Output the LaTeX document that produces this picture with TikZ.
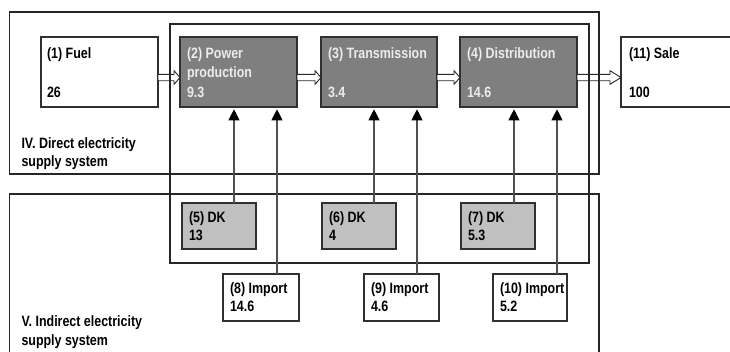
\documentclass[tikz,border=0pt]{standalone}
\usepackage{fontspec}
\setmainfont{Liberation Sans}[FakeStretch=0.83]
\usetikzlibrary{arrows.meta,calc}

\definecolor{boxdark}{HTML}{7F7F7F}
\definecolor{boxlight}{HTML}{C0C0C0}
\definecolor{edge}{HTML}{303030}
\definecolor{feedline}{HTML}{505050}
\definecolor{lighttext}{HTML}{ECECEC}

% left-aligned stack of lines whose baseline is the first line
\newcommand{\rows}[1]{\begin{tabular}[t]{@{}l@{}}#1\end{tabular}}

\tikzset{
  box/.style={draw=edge, line width=1.3pt, inner sep=0pt, outer sep=0pt, anchor=north west},
  stagebox/.style={box, fill=boxdark, minimum height=70},
  dkbox/.style={box, fill=boxlight, minimum width=74, minimum height=46},
  importbox/.style={box, fill=white, minimum height=47},
  plainbox/.style={box, fill=white, minimum height=70},
  frame/.style={draw=black!85, line width=1.1pt, inner sep=0pt, outer sep=0pt, anchor=north west},
  txt/.style={anchor=base west, inner sep=0pt, outer sep=0pt,
    font=\bfseries\fontsize{15}{19.5}\selectfont},
  smalltxt/.style={txt, font=\bfseries\fontsize{15}{18}\selectfont},
  lighttxt/.style={txt, text=lighttext},
  feed/.style={draw=feedline, line width=1.1pt, shorten >=2.3pt,
    -{Triangle[length=11pt,width=11pt,color=black]}},
  hollow/.style={fill=white, draw=black!85, line width=0.9pt, line join=miter,
    to path={let \p1=(\tikztostart), \p2=(\tikztotarget) in
      (\x1,\y1+3.2pt) -- (\x2-#1,\y1+3.2pt) -- (\x2-#1,\y1+6.8pt) -- (\x2,\y1)
      -- (\x2-#1,\y1-6.8pt) -- (\x2-#1,\y1-3.2pt) -- (\x1,\y1-3.2pt) -- cycle}},
}

\begin{document}
\begin{tikzpicture}[x=1pt,y=-1pt]
\useasboundingbox (0,0) rectangle (730,351);

% main chain
\node[plainbox, minimum width=117] (fuel)  at (41,37)  {};
\node[stagebox, minimum width=117] (pow)   at (180,37) {};
\node[stagebox, minimum width=116] (trans) at (321,37) {};
\node[stagebox, minimum width=117] (dist)  at (460,37) {};
\node[plainbox, minimum width=114] (sale)  at (621,37) {};

\node[txt]      (fuel-t)  at ([shift={(6,21)}]fuel.north west)  {\rows{(1) Fuel\\ \\26}};
\node[lighttxt] (pow-t)   at ([shift={(7,21)}]pow.north west)   {\rows{(2) Power\\production\\9.3}};
\node[lighttxt] (trans-t) at ([shift={(7,21)}]trans.north west) {\rows{(3) Transmission\\ \\3.4}};
\node[lighttxt] (dist-t)  at ([shift={(7,21)}]dist.north west)  {\rows{(4) Distribution\\ \\14.6}};
\node[txt]      (sale-t)  at ([shift={(8,21)}]sale.north west)  {\rows{(11) Sale\\ \\100}};

% domestic production inputs
\node[dkbox] (dk5) at (182,203) {};
\node[dkbox] (dk6) at (322,203) {};
\node[dkbox] (dk7) at (461,203) {};
\node[smalltxt] (dk5-t) at ([shift={(7,19.7)}]dk5.north west) {\rows{(5) DK\\13}};
\node[smalltxt] (dk6-t) at ([shift={(7,19.7)}]dk6.north west) {\rows{(6) DK\\4}};
\node[smalltxt] (dk7-t) at ([shift={(7,19.7)}]dk7.north west) {\rows{(7) DK\\5.3}};

% imports
\node[importbox, minimum width=76] (imp8)  at (223,274) {};
\node[importbox, minimum width=75] (imp9)  at (364,274) {};
\node[importbox, minimum width=74] (imp10) at (493,274) {};
\node[smalltxt] (imp8-t)  at ([shift={(7,19.7)}]imp8.north west)  {\rows{(8) Import\\14.6}};
\node[smalltxt] (imp9-t)  at ([shift={(7,19.7)}]imp9.north west)  {\rows{(9) Import\\4.6}};
\node[smalltxt] (imp10-t) at ([shift={(7,19.7)}]imp10.north west) {\rows{(10) Import\\5.2}};

% flows along the chain
\draw[hollow=6pt]  ([shift={(0,5.5)}]fuel.east)  to (pow.west);
\draw[hollow=6pt]  ([shift={(0,5.5)}]pow.east)   to (trans.west);
\draw[hollow=6pt]  ([shift={(0,5.5)}]trans.east) to (dist.west);
\draw[hollow=11pt] ([shift={(0,5.5)}]dist.east)  to (sale.west);

% system frames
\node[frame, minimum width=589.5, minimum height=162] (direct)   at (9.5,12)  {};
\node[frame, minimum width=589.5, minimum height=170] (indirect) at (9.5,194) {};
\node[frame, minimum width=419,   minimum height=239] (core)     at (170,24)  {};

\node[smalltxt] (direct-t)   at (21.5,148)   {\rows{IV. Direct electricity\\supply system}};
\node[txt, font=\bfseries\fontsize{15}{18.5}\selectfont]
                (indirect-t) at (21.5,326.5) {\rows{V. Indirect electricity\\supply system}};

% feeds into the chain
\draw[feed] ([shift={(15,0)}]dk5.north)   -- ([shift={(15,0)}]dk5.north |- pow.south);
\draw[feed] ([shift={(16,0)}]imp8.north)  -- ([shift={(16,0)}]imp8.north |- pow.south);
\draw[feed] ([shift={(15,0)}]dk6.north)   -- ([shift={(15,0)}]dk6.north |- trans.south);
\draw[feed] ([shift={(15.5,0)}]imp9.north) -- ([shift={(15.5,0)}]imp9.north |- trans.south);
\draw[feed] ([shift={(16,0)}]dk7.north)   -- ([shift={(16,0)}]dk7.north |- dist.south);
\draw[feed] ([shift={(27,0)}]imp10.north) -- ([shift={(27,0)}]imp10.north |- dist.south);
\end{tikzpicture}
\end{document}
